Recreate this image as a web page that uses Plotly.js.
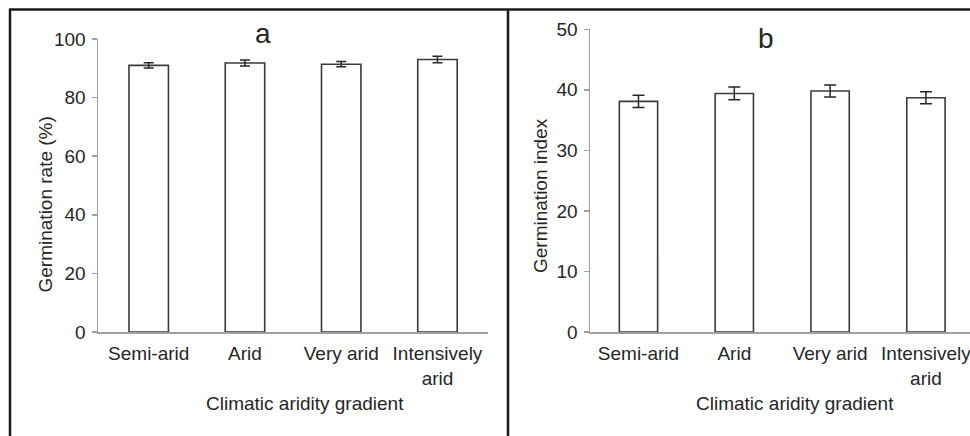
<!DOCTYPE html>
<html>
<head>
<meta charset="utf-8">
<script src="https://cdn.plot.ly/plotly-3.0.1.min.js"></script>
<style>html,body{margin:0;padding:0;background:#fff;}#chart{width:970px;height:436px;}</style>
</head>
<body>
<div id="chart"></div>
<script>
// ---- data ----
const categories = ['Semi-arid', 'Arid', 'Very arid', 'Intensively arid'];
const tickLabels = ['Semi-arid', 'Arid', 'Very arid', 'Intensively<br>arid'];
const rateMeans = [91.0, 91.8, 91.4, 93.0];
const rateErr = [0.9, 1.0, 0.9, 1.1];
const indexMeans = [38.1, 39.4, 39.8, 38.7];
const indexErr = [1.0, 1.05, 1.0, 1.0];
const panelLetters = ['a', 'b'];
const yTitles = ['Germination rate (%)', 'Germination index'];
const xTitle = 'Climatic aridity gradient';

// ---- layout helpers (pixel -> paper) ----
const W = 970, H = 436;
const px = x => x / W;
const py = y => 1 - y / H;

const barLine = {color: '#3a3a3a', width: 1.6};
const textCol = '#262626';
const axisCol = '#a0a0a0';
const FS = 19;

const traces = [
  {
    type: 'bar', x: categories, y: rateMeans, xaxis: 'x', yaxis: 'y', width: 0.41,
    marker: {color: '#ffffff', line: barLine},
    error_y: {type: 'data', array: rateErr, visible: true, color: '#262626', thickness: 1.5, width: 5},
    hoverinfo: 'skip'
  },
  {
    type: 'bar', x: categories, y: indexMeans, xaxis: 'x2', yaxis: 'y2', width: 0.40,
    marker: {color: '#ffffff', line: barLine},
    error_y: {type: 'data', array: indexErr, visible: true, color: '#262626', thickness: 1.5, width: 6},
    hoverinfo: 'skip'
  }
];

const xCommon = {
  type: 'category', tickvals: categories, ticktext: tickLabels,
  showline: true, linecolor: axisCol, linewidth: 1.5, ticks: '', showgrid: false, zeroline: false,
  tickfont: {size: FS, color: textCol}, ticklabelstandoff: 4, fixedrange: true
};
const yCommon = {
  showline: true, linecolor: axisCol, linewidth: 1.5, ticks: 'outside', ticklen: 5, tickcolor: axisCol, tickwidth: 1.5,
  showgrid: false, zeroline: false, tickfont: {size: FS, color: textCol}, ticklabelstandoff: 2, fixedrange: true
};

const layout = {
  width: W, height: H, autosize: false,
  margin: {l: 0, r: 0, t: 0, b: 0, pad: 0},
  paper_bgcolor: '#ffffff', plot_bgcolor: 'rgba(0,0,0,0)',
  font: {family: '"Liberation Sans", Arial, sans-serif', color: textCol},
  showlegend: false,
  xaxis: Object.assign({}, xCommon, {domain: [px(98), px(488)], range: [-0.527, 3.525], anchor: 'y'}),
  yaxis: Object.assign({}, yCommon, {domain: [py(332), py(39)], range: [0, 100], tickvals: [0, 20, 40, 60, 80, 100], anchor: 'x'}),
  xaxis2: Object.assign({}, xCommon, {domain: [px(590), 1], range: [-0.506, 3.46], anchor: 'y2'}),
  yaxis2: Object.assign({}, yCommon, {domain: [py(332), py(29.3)], range: [0, 50], tickvals: [0, 10, 20, 30, 40, 50], anchor: 'x2'}),
  annotations: [
    {text: panelLetters[0], xref: 'paper', yref: 'paper', x: px(263), y: py(34), xanchor: 'center', yanchor: 'middle', showarrow: false, font: {size: 28, color: textCol}},
    {text: panelLetters[1], xref: 'paper', yref: 'paper', x: px(766), y: py(38), xanchor: 'center', yanchor: 'middle', showarrow: false, font: {size: 28, color: textCol}},
    {text: yTitles[0], xref: 'paper', yref: 'paper', x: px(44.5), y: py(205), xanchor: 'center', yanchor: 'middle', textangle: -90, showarrow: false, font: {size: FS, color: textCol}},
    {text: yTitles[1], xref: 'paper', yref: 'paper', x: px(540), y: py(196), xanchor: 'center', yanchor: 'middle', textangle: -90, showarrow: false, font: {size: FS, color: textCol}},
    {text: xTitle, xref: 'paper', yref: 'paper', x: px(304.5), y: py(403), xanchor: 'center', yanchor: 'middle', showarrow: false, font: {size: FS, color: textCol}},
    {text: xTitle, xref: 'paper', yref: 'paper', x: px(794.5), y: py(403), xanchor: 'center', yanchor: 'middle', showarrow: false, font: {size: FS, color: textCol}}
  ],
  shapes: [
    {type: 'line', xref: 'paper', yref: 'paper', x0: px(9), x1: 1, y0: py(9.5), y1: py(9.5), line: {color: '#1a1a1a', width: 2.5}, layer: 'above'},
    {type: 'line', xref: 'paper', yref: 'paper', x0: px(10), x1: px(10), y0: py(9), y1: 0, line: {color: '#1a1a1a', width: 2.5}, layer: 'above'},
    {type: 'line', xref: 'paper', yref: 'paper', x0: px(508), x1: px(508), y0: py(9), y1: 0, line: {color: '#1a1a1a', width: 2.5}, layer: 'above'}
  ]
};

Plotly.newPlot('chart', traces, layout, {staticPlot: true, displayModeBar: false});
</script>
</body>
</html>
